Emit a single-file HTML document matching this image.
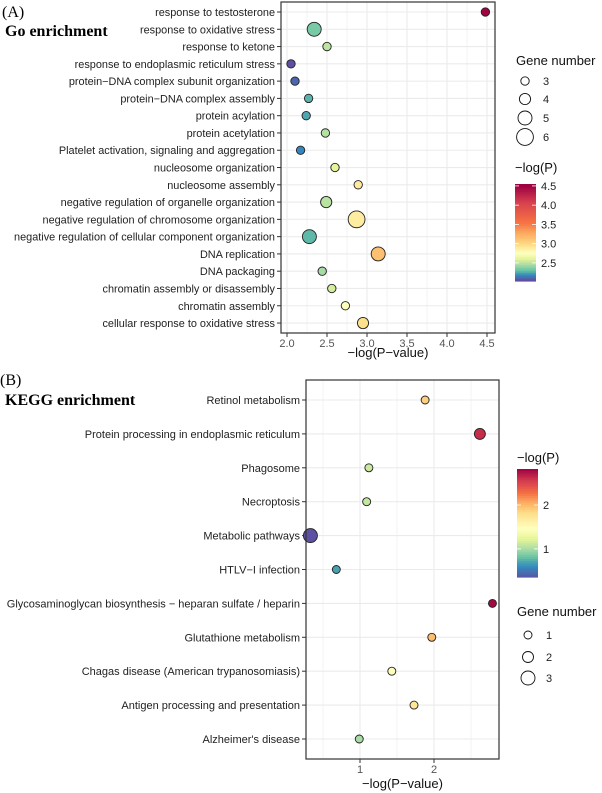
<!DOCTYPE html>
<html><head><meta charset="utf-8"><style>
html,body{margin:0;padding:0;background:#fff;}
svg{display:block;font-family:"Liberation Sans",Arial,sans-serif;}
</style></head><body>
<svg id="fig" width="602" height="793" viewBox="0 0 602 793" xmlns="http://www.w3.org/2000/svg">
<text x="2" y="17" font-family="Liberation Serif,serif" font-size="16">(A)</text>
<text x="5" y="36" font-family="Liberation Serif,serif" font-size="16" font-weight="bold">Go enrichment</text>
<text x="0" y="385" font-family="Liberation Serif,serif" font-size="16">(B)</text>
<text x="5" y="405" font-family="Liberation Serif,serif" font-size="16" font-weight="bold">KEGG enrichment</text>
<g id="ga"></g><g id="gb"></g>
</svg>
<script>
const goTerms=["response to testosterone","response to oxidative stress","response to ketone","response to endoplasmic reticulum stress","protein\u2212DNA complex subunit organization","protein\u2212DNA complex assembly","protein acylation","protein acetylation","Platelet activation, signaling and aggregation","nucleosome organization","nucleosome assembly","negative regulation of organelle organization","negative regulation of chromosome organization","negative regulation of cellular component organization","DNA replication","DNA packaging","chromatin assembly or disassembly","chromatin assembly","cellular response to oxidative stress"];
const goValues=[4.48,2.34,2.50,2.05,2.10,2.27,2.24,2.48,2.17,2.60,2.89,2.49,2.87,2.28,3.14,2.44,2.56,2.73,2.95];
const goCounts=[3,5,3,3,3,3,3,3,3,3,3,4,6,5,5,3,3,3,4];
const goTicks=[2.0,2.5,3.0,3.5,4.0,4.5];
const goSizeLegend=[3,4,5,6];
const goColorTicks=[2.5,3.0,3.5,4.0,4.5];

const keggTerms=["Retinol metabolism","Protein processing in endoplasmic reticulum","Phagosome","Necroptosis","Metabolic pathways","HTLV\u2212I infection","Glycosaminoglycan biosynthesis \u2212 heparan sulfate / heparin","Glutathione metabolism","Chagas disease (American trypanosomiasis)","Antigen processing and presentation","Alzheimer's disease"];
const keggValues=[1.88,2.62,1.12,1.09,0.33,0.68,2.79,1.97,1.43,1.73,0.99];
const keggCounts=[1,2,1,1,3,1,1,1,1,1,1];
const keggTicks=[1,2];
const keggSizeLegend=[1,2,3];
const keggColorTicks=[1,2];

const NS="http://www.w3.org/2000/svg";
const spectral=["#5E4FA2","#3288BD","#66C2A5","#ABDDA4","#E6F598","#FFFFBF","#FEE08B","#FDAE61","#F46D43","#D53E4F","#9E0142"];
function hex(c){return [1,3,5].map(i=>parseInt(c.substr(i,2),16));}
function colorAt(t){t=Math.max(0,Math.min(1,t));const p=t*(spectral.length-1);const i=Math.min(Math.floor(p),spectral.length-2);const f=p-i;const a=hex(spectral[i]),b=hex(spectral[i+1]);return "rgb("+a.map((v,k)=>Math.round(v+(b[k]-v)*f)).join(",")+")";}
function piecewise(vs,ts){return v=>{if(v<=vs[0])return ts[0];for(let i=1;i<vs.length;i++){if(v<=vs[i]){const f=(v-vs[i-1])/(vs[i]-vs[i-1]);return ts[i-1]+f*(ts[i]-ts[i-1]);}}return ts[ts.length-1];};}
function el(tag,attrs,parent,txt){const e=document.createElementNS(NS,tag);for(const k in attrs)e.setAttribute(k,attrs[k]);if(txt!==undefined)e.textContent=txt;parent.appendChild(e);return e;}

function panel(g,cfg){
  const {left,right,top,bottom,y0,dy,x0,xScale,terms,values,counts,ticks,rFn,tFn,labelX,fs}=cfg;
  const X=v=>x0+(v-cfg.xRef)*xScale, Y=i=>y0+i*dy;
  el("rect",{x:left,y:top,width:right-left,height:bottom-top,fill:"#fff"},g);
  const step=ticks[1]-ticks[0];
  for(let v=ticks[0]-step*3;v<=ticks[ticks.length-1]+step*3;v+=step/2){const x=X(v);if(x<=left||x>=right)continue;
    const major=Math.abs(Math.round(v/step)*step-v)<1e-6;
    const ln=el("line",{x1:x,x2:x,y1:top,y2:bottom,stroke:"#ebebeb","stroke-width":major?1.1:0.6},g);
    
    }
  terms.forEach((t,i)=>{const y=Y(i);
    const ln=el("line",{x1:left,x2:right,y1:y,y2:y,stroke:"#ebebeb","stroke-width":1.1},g);
    
    
    const tk=el("line",{x1:left-4,x2:left,y1:y,y2:y,stroke:"#333","stroke-width":1},g);
    
    
    const tx=el("text",{x:labelX,y:y+4,"text-anchor":"end","font-size":fs,fill:"#222"},g,t);
    
    });
  terms.forEach((t,i)=>{
    const c=el("circle",{cx:X(values[i]),cy:Y(i),r:rFn(counts[i]),fill:colorAt(tFn(values[i])),stroke:"#222","stroke-width":0.9},g);
    
    });
  const b=el("rect",{x:left,y:top,width:right-left,height:bottom-top,fill:"none",stroke:"#333","stroke-width":1.2},g);
  
  
  ticks.forEach(v=>{const x=X(v);
    const tk=el("line",{x1:x,x2:x,y1:bottom,y2:bottom+4,stroke:"#333","stroke-width":1},g);
    
    
    const tx=el("text",{x:x,y:bottom+14,"text-anchor":"middle","font-size":11,fill:"#555"},g,cfg.fmt(v));
    
    });
  const at=el("text",{x:(left+right)/2,y:cfg.titleY,"text-anchor":"middle","font-size":13,fill:"#111"},g,"\u2212log(P\u2212value)");
  
  
}
function sizeLegend(g,cfg){
  const t=el("text",{x:cfg.x,y:cfg.titleY,"font-size":13,fill:"#111"},g,"Gene number");
  
  
  cfg.vals.forEach((v,i)=>{const y=cfg.ys[i];
    const c=el("circle",{cx:cfg.cx,cy:y,r:cfg.rFn(v),fill:"none",stroke:"#111","stroke-width":0.9},g);
    
    
    const tx=el("text",{x:cfg.lx,y:y+4,"font-size":11,fill:"#222"},g,String(v));
    
    });
}
function colorBar(g,cfg){
  const t=el("text",{x:cfg.x,y:cfg.titleY,"font-size":13,fill:"#111"},g,"\u2212log(P)");
  
  
  const n=60,h=(cfg.y1-cfg.y0)/n;
  for(let i=0;i<n;i++){const v=cfg.vMax-(i+0.5)/n*(cfg.vMax-cfg.vMin);
    const r=el("rect",{x:cfg.x,y:cfg.y0+i*h,width:cfg.w,height:h+0.6,fill:colorAt(cfg.tFn(v))},g);
    
    }
  const Y=v=>cfg.y1-(v-cfg.vMin)/(cfg.vMax-cfg.vMin)*(cfg.y1-cfg.y0);
  cfg.ticks.forEach(v=>{const y=Y(v);
    el("line",{x1:cfg.x,x2:cfg.x+4,y1:y,y2:y,stroke:"#fff","stroke-width":0.8},g);
    el("line",{x1:cfg.x+cfg.w-4,x2:cfg.x+cfg.w,y1:y,y2:y,stroke:"#fff","stroke-width":0.8},g);
    const tx=el("text",{x:cfg.x+cfg.w+5,y:y+4,"font-size":11,fill:"#222"},g,cfg.fmt(v));
    
    });
}
const ga=document.getElementById("ga"),gb=document.getElementById("gb");
const tA=piecewise([2.05,2.3,2.5,2.75,3.0,3.25,3.5,4.0,4.5],[0,0.2,0.33,0.5,0.62,0.7,0.78,0.88,1]);
const tB=piecewise([0.33,0.7,1.0,1.4,1.8,2.0,2.4,2.82],[0,0.15,0.3,0.48,0.6,0.68,0.85,1]);
const rA=s=>1.4*s, rB=s=>2.5+1.5*s;
panel(ga,{left:281,right:495,top:2,bottom:333,y0:12,dy:17.28,x0:287,xRef:2,xScale:80,terms:goTerms,values:goValues,counts:goCounts,ticks:goTicks,rFn:rA,tFn:tA,labelX:275,fs:10.9,titleY:357,fmt:v=>v.toFixed(1)});
sizeLegend(ga,{x:516,titleY:65,cx:525,ys:[81,99,118,137],vals:goSizeLegend,rFn:rA,lx:543});
colorBar(ga,{x:515,w:21,titleY:172,y0:184,y1:281,vMin:2.03,vMax:4.55,tFn:tA,ticks:goColorTicks,fmt:v=>v.toFixed(1)});
panel(gb,{left:306,right:499,top:380,bottom:759,y0:400,dy:33.9,x0:286,xRef:0,xScale:74,terms:keggTerms,values:keggValues,counts:keggCounts,ticks:keggTicks,rFn:rB,tFn:tB,labelX:300,fs:11,titleY:788,fmt:v=>String(v)});
sizeLegend(gb,{x:517,titleY:616,cx:528,ys:[635,657,678],vals:keggSizeLegend,rFn:rB,lx:546});
colorBar(gb,{x:517,w:21,titleY:462,y0:469,y1:577,vMin:0.36,vMax:2.82,tFn:tB,ticks:keggColorTicks,fmt:v=>String(v)});
</script>
</body></html>
